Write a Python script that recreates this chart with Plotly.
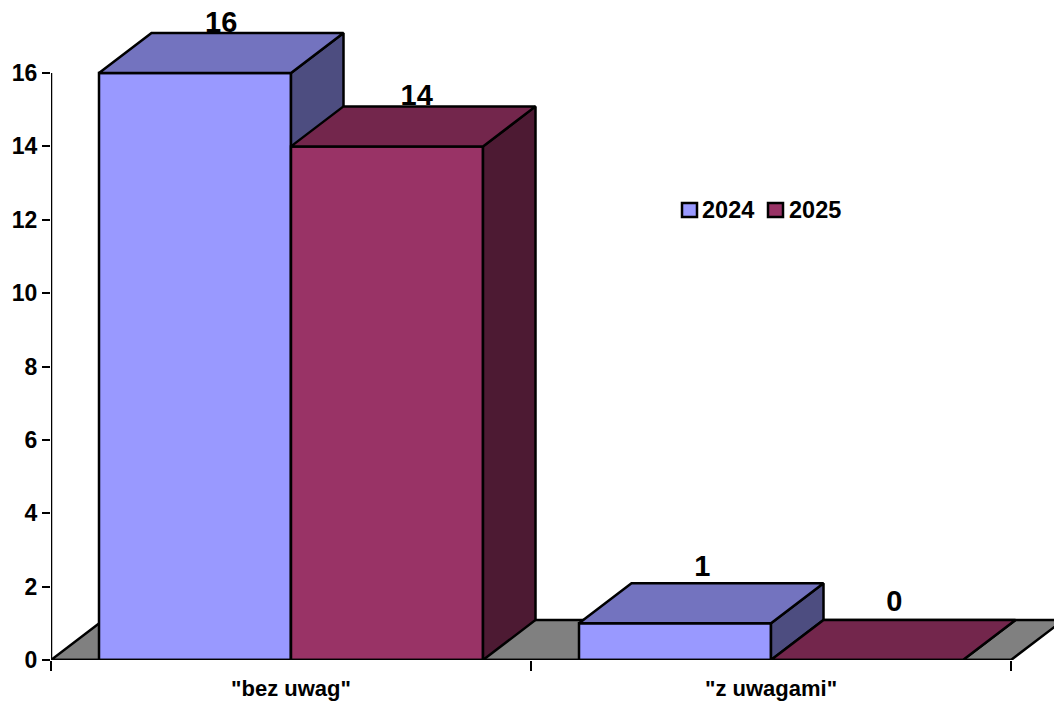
import plotly.graph_objects as go

categories = ['"bez uwag"', '"z uwagami"']
series_names = ["2024", "2025"]
values_2024 = [16, 1]
values_2025 = [14, 0]
y_ticks = [0, 2, 4, 6, 8, 10, 12, 14, 16]

FONT = "Liberation Sans, Arial, sans-serif"
COLORS = ["#9999FF", "#993366"]
BAR_W = 0.4
PX_X = 480           # pixels per category
PX_Y = 587 / 16      # pixels per y unit
DX = 52.5 / PX_X     # depth of the 3D projection in x units
DY = 40 / PX_Y       # depth of the 3D projection in y units
centers = [0.5, 1.5]
PLOT_W, PLOT_H = 1003, 660
X_MAX = PLOT_W / PX_X
Y_MAX = PLOT_H / PX_Y
LINE_W = 2.5

fig = go.Figure()


def face(points_list, color, xa, ya):
    xs, ys = [], []
    for pts in points_list:
        for x, y in pts + [pts[0]]:
            xs.append(x)
            ys.append(y)
        xs.append(None)
        ys.append(None)
    fig.add_trace(go.Scatter(x=xs, y=ys, mode="lines", fill="toself", fillcolor=color,
                             line=dict(color="black", width=LINE_W), showlegend=False,
                             hoverinfo="skip", xaxis=xa, yaxis=ya))


# floor, on the lowest pair of axes so that every bar covers it
face([[(0, 0), (DX, DY), (2 + DX, DY), (2, 0)]], "#808080", "x", "y")


def series(name, vals, offset, front, top, side, lift_px, right_px, xa, ya):
    lefts = [c + offset for c in centers]
    sides = [[(l + BAR_W, 0), (l + BAR_W + DX, DY), (l + BAR_W + DX, v + DY), (l + BAR_W, v)]
             for l, v in zip(lefts, vals)]
    tops = [[(l, v), (l + DX, v + DY), (l + BAR_W + DX, v + DY), (l + BAR_W, v)]
            for l, v in zip(lefts, vals)]
    face(sides, side, xa, ya)
    face(tops, top, xa, ya)
    fig.add_trace(go.Bar(name=name, x=centers, y=vals, width=BAR_W, offset=offset,
                         marker=dict(color=front, line=dict(color="black", width=LINE_W)),
                         xaxis=xa, yaxis=ya, hoverinfo="x+y", showlegend=False))
    fig.add_trace(go.Scatter(x=[l + BAR_W / 2 + DX / 2 + r / PX_X for l, r in zip(lefts, right_px)],
                             y=[v + DY + p / PX_Y for v, p in zip(vals, lift_px)],
                             text=[str(v) for v in vals], mode="text", textposition="middle center",
                             textfont=dict(family=FONT, size=29, color="black", weight="bold"),
                             showlegend=False, hoverinfo="skip", cliponaxis=False,
                             xaxis=xa, yaxis=ya))


series(series_names[0], values_2024, -BAR_W, COLORS[0], "#7373BF", "#4D4D80",
       [8.5, 15], [0, 1], "x2", "y2")
series(series_names[1], values_2025, 0, COLORS[1], "#73264C", "#4D1A33",
       [9, 16.5], [3.5, 1], "x3", "y3")

# axis lines stop at the last tick, while the depth of the bars goes on past them
fig.add_trace(go.Scatter(x=[0, 0, len(categories)], y=[y_ticks[-1], 0, 0], mode="lines",
                         line=dict(color="black", width=LINE_W), showlegend=False,
                         hoverinfo="skip", cliponaxis=False, xaxis="x3", yaxis="y3"))


def px_x(p):
    return (p - 51) / PLOT_W


def px_y(p):
    return (660 - p) / PLOT_H


legend_boxes = [(682, 697), (768, 783)]
legend_text_x = [702, 789]
shapes, annotations = [], []
for name, color, (x0, x1), tx in zip(series_names, COLORS, legend_boxes, legend_text_x):
    shapes.append(dict(type="rect", xref="paper", yref="paper", x0=px_x(x0), x1=px_x(x1),
                       y0=px_y(217), y1=px_y(203), fillcolor=color,
                       line=dict(color="black", width=2.5)))
    annotations.append(dict(text=name, xref="paper", yref="paper", x=px_x(tx), y=px_y(210),
                            xanchor="left", yanchor="middle", showarrow=False, xshift=-2,
                            font=dict(family=FONT, size=23.5, color="black", weight="bold")))

fig.update_layout(
    width=1054, height=707,
    margin=dict(l=51, r=0, t=0, b=47, pad=0),
    paper_bgcolor="white", plot_bgcolor="rgba(0,0,0,0)",
    barmode="overlay",
    showlegend=False,
    shapes=shapes,
    annotations=annotations,
    xaxis=dict(range=[0, X_MAX], tickvals=centers, ticktext=categories, ticks="",
               showgrid=False, zeroline=False, showline=False, automargin=False,
               tickfont=dict(family=FONT, size=22, color="black", weight="bold"),
               ticklabelstandoff=13,
               minor=dict(tickvals=[0, 1, 2], ticks="outside", ticklen=10, tickwidth=2,
                          tickcolor="black", showgrid=False)),
    yaxis=dict(range=[0, Y_MAX], tickvals=y_ticks, ticks="outside", ticklen=8, tickwidth=2,
               tickcolor="black", showgrid=False, zeroline=False, showline=False,
               automargin=False,
               tickfont=dict(family=FONT, size=23, color="black", weight="bold")),
    xaxis2=dict(range=[0, X_MAX], overlaying="x", visible=False),
    yaxis2=dict(range=[0, Y_MAX], overlaying="y", visible=False),
    xaxis3=dict(range=[0, X_MAX], overlaying="x", visible=False),
    yaxis3=dict(range=[0, Y_MAX], overlaying="y", visible=False),
)

fig.write_html("out.html", post_script="document.body.style.margin='0';",
               config={"displayModeBar": False})
